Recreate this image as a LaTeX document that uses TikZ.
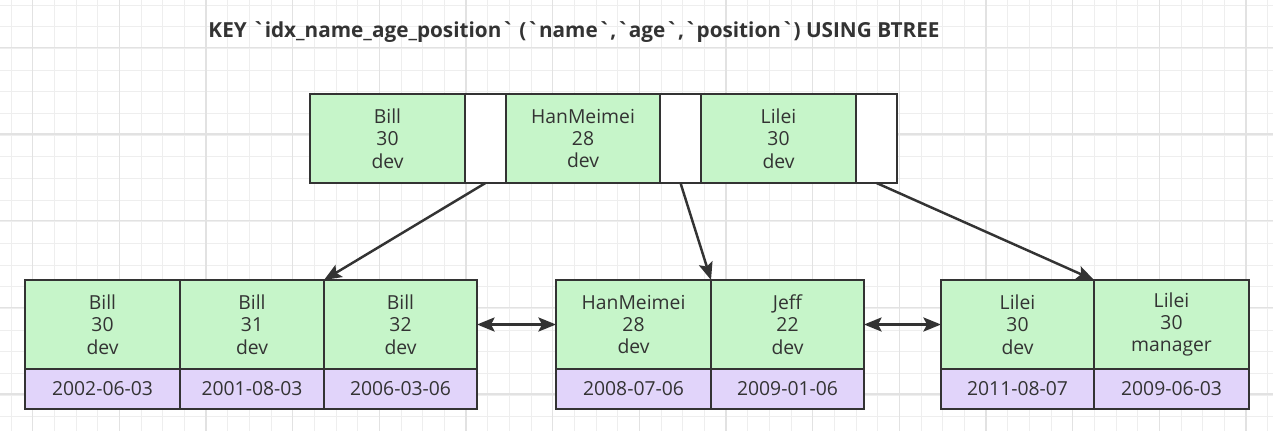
\documentclass[tikz,border=0pt]{standalone}
\usepackage{fontspec}
\setmainfont{Open Sans}
\usetikzlibrary{arrows.meta,positioning}

\definecolor{keygreen}{HTML}{C6F5C9}
\definecolor{datepurple}{HTML}{E1D4FA}
\definecolor{inkgray}{HTML}{333333}
\definecolor{gridminor}{HTML}{EEEEEE}
\definecolor{gridmajor}{HTML}{E2E2E2}
\newcommand{\bq}{\textasciigrave}

\begin{document}
\begin{tikzpicture}[line width=1.4pt,>={Stealth[length=10pt,width=8pt,inset=2pt]},
                    cell/.style={draw=inkgray,rectangle,inner sep=0pt,outer sep=0pt,
                                 text=inkgray,align=center,font=\fontsize{11}{12.7}\selectfont},
                    keycell/.style={cell,fill=keygreen,minimum height=1.78cm},
                    ptrcell/.style={cell,fill=white,minimum width=0.82cm,minimum height=1.78cm},
                    datecell/.style={cell,fill=datepurple,minimum height=0.8cm},
                    link/.style={->,draw=inkgray},
                    sibling/.style={<->,draw=inkgray}]

    \useasboundingbox (0,0) rectangle (25.46,-8.6);
    % grid paper
    \begin{scope}
        \clip (0,0) rectangle (25.46,-8.6);
        \draw[gridminor,line width=0.5pt,shift={(0.22,-0.1)},step=0.43333] (-1,-9) grid (26,1);
        \draw[gridmajor,line width=0.6pt,shift={(0.653,-0.947)},step=1.73333] (-2,-9) grid (26,2);
    \end{scope}

    \node[font=\fontsize{11.8}{14}\selectfont\bfseries,text=inkgray,anchor=base] (title) at (11.48,-0.76)
        {KEY \bq idx\_name\_age\_position\bq{} (\bq name\bq,\bq age\bq,\bq position\bq) USING BTREE};

    % root page
    \node[keycell,minimum width=3.1cm,anchor=west] (t1) at (6.2,-2.77) {Bill\\30\\dev};
    \node[ptrcell]                                 (p1) [right=0pt of t1] {};
    \node[keycell,minimum width=3.08cm]            (t2) [right=0pt of p1] {HanMeimei\\28\\dev};
    \node[ptrcell]                                 (p2) [right=0pt of t2] {};
    \node[keycell,minimum width=3.1cm]             (t3) [right=0pt of p2] {Lilei\\30\\dev};
    \node[ptrcell]                                 (p3) [right=0pt of t3] {};

    % leaf pages
    \node[keycell,minimum width=3.1cm,anchor=west] (l1) at (0.5,-6.49) {Bill\\30\\dev};
    \node[keycell,minimum width=2.88cm]            (l2) [right=0pt of l1] {Bill\\31\\dev};
    \node[keycell,minimum width=3.06cm]            (l3) [right=0pt of l2] {Bill\\32\\dev};
    \node[datecell,minimum width=3.1cm]            (ld1) [below=0pt of l1] {2002-06-03};
    \node[datecell,minimum width=2.88cm]           (ld2) [below=0pt of l2] {2001-08-03};
    \node[datecell,minimum width=3.06cm]           (ld3) [below=0pt of l3] {2006-03-06};

    \node[keycell,minimum width=3.1cm,anchor=west] (m1) at (11.12,-6.49) {HanMeimei\\28\\dev};
    \node[keycell,minimum width=3.06cm]            (m2) [right=0pt of m1] {Jeff\\22\\dev};
    \node[datecell,minimum width=3.1cm]            (md1) [below=0pt of m1] {2008-07-06};
    \node[datecell,minimum width=3.06cm]           (md2) [below=0pt of m2] {2009-01-06};

    \node[keycell,minimum width=3.06cm,anchor=west] (r1) at (18.82,-6.49) {Lilei\\30\\dev};
    \node[keycell,minimum width=3.1cm]              (r2) [right=0pt of r1] {Lilei\\30\\manager};
    \node[datecell,minimum width=3.06cm]            (rd1) [below=0pt of r1] {2011-08-07};
    \node[datecell,minimum width=3.1cm]             (rd2) [below=0pt of r2] {2009-06-03};

    \draw[link]    (p1.south) -- (l3.north west);
    \draw[link]    (p2.south) -- (m1.north east);
    \draw[link]    (p3.south) -- (r1.north east);
    \draw[sibling] (l3.east)  -- (m1.west);
    \draw[sibling] (m2.east)  -- (r1.west);
\end{tikzpicture}
\end{document}
